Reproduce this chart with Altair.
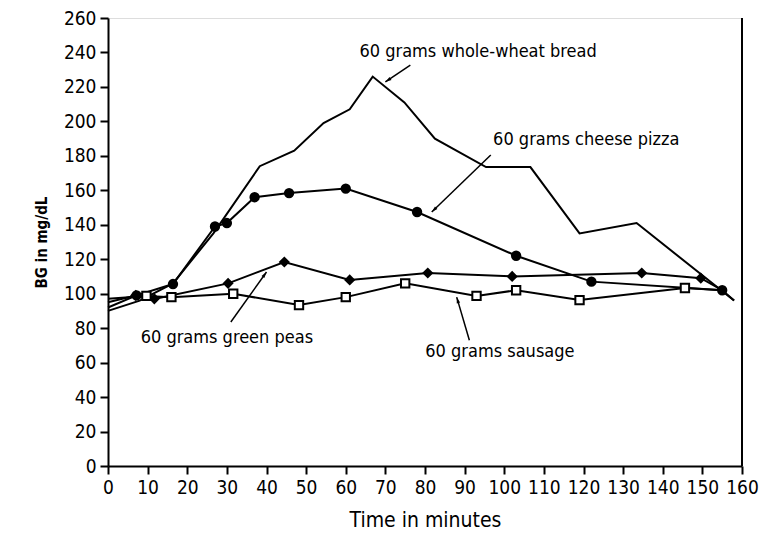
import math
import altair as alt
import pandas as pd

FONT = "DejaVu Sans Condensed, Liberation Sans Narrow, sans-serif"

# ---- data (time in minutes, BG in mg/dL) ----
bread_t = [0, 8, 16.4, 26.6, 38.3, 47, 54.4, 61, 66.8, 74.8, 82.5, 95.4, 106.6, 119, 133.4, 158]
bread_bg = [90, 96, 106, 135, 174, 183, 199, 207, 226, 211, 190, 173.5, 173.5, 135, 141, 96]
bread_mk = [0] * len(bread_t)

pizza_t = [0, 7.2, 16.4, 27, 30, 37, 45.7, 60, 78, 103, 122, 155, 158]
pizza_bg = [92, 99, 105.6, 139, 141, 156, 158.4, 161, 147.4, 122, 107, 102, 96]
pizza_mk = [0, 1, 1, 1, 1, 1, 1, 1, 1, 1, 1, 1, 0]

peas_t = [0, 7, 11.7, 30.3, 44.5, 61, 80.7, 102, 134.7, 149.6, 155]
peas_bg = [95, 99, 97, 106, 118.4, 108, 112, 110, 112, 109, 102]
peas_mk = [0, 1, 1, 1, 1, 1, 1, 1, 1, 1, 0]

saus_t = [0, 9.7, 16, 31.6, 48.2, 60, 75, 93, 103, 119, 145.6, 155]
saus_bg = [97, 98.7, 98, 100, 93.4, 98, 106, 98.7, 102, 96.3, 103.3, 102]
saus_mk = [0, 1, 1, 1, 1, 1, 1, 1, 1, 1, 1, 0]

series_names = ["bread", "pizza", "peas", "sausage"]

# annotations: label, text position, arrow start, arrow end (data units)
ann_text = ["60 grams whole-wheat bread", "60 grams cheese pizza", "60 grams green peas", "60 grams sausage"]
ann_tx = [93.4, 120.7, 30.0, 98.9]
ann_ty = [240.3, 189.2, 74.3, 66.2]
arr_x0 = [76.3, 96.6, 31.0, 91.2]
arr_y0 = [232.7, 180.5, 83.6, 73.0]
arr_x1 = [70.0, 81.7, 40.0, 88.0]
arr_y1 = [222.9, 147.4, 112.6, 98.0]

x_ticks = list(range(0, 161, 10))
y_ticks = list(range(0, 261, 20))

W, H = 634, 448
XMAX, YMAX = 160, 260

rows = []
for name, ts, bgs, mks in zip(series_names,
                              [bread_t, pizza_t, peas_t, saus_t],
                              [bread_bg, pizza_bg, peas_bg, saus_bg],
                              [bread_mk, pizza_mk, peas_mk, saus_mk]):
    for i, (t, b, m) in enumerate(zip(ts, bgs, mks)):
        rows.append({"series": name, "t": t, "bg": b, "mk": m, "order": i})
df = pd.DataFrame(rows)

ann_df = pd.DataFrame({"text": ann_text, "t": ann_tx, "bg": ann_ty})

arr_rows = []
head_rows = []
for k in range(len(ann_text)):
    arr_rows.append({"id": k, "t": arr_x0[k], "bg": arr_y0[k], "o": 0})
    arr_rows.append({"id": k, "t": arr_x1[k], "bg": arr_y1[k], "o": 1})
    dx = (arr_x1[k] - arr_x0[k]) * W / XMAX
    dy = -(arr_y1[k] - arr_y0[k]) * H / YMAX
    ang = math.degrees(math.atan2(dx, -dy)) % 360
    head_rows.append({"t": arr_x1[k], "bg": arr_y1[k], "ang": ang})
arr_df = pd.DataFrame(arr_rows)
head_df = pd.DataFrame(head_rows)

xs = alt.Scale(domain=[0, XMAX], nice=False, zero=False)
ys = alt.Scale(domain=[0, YMAX], nice=False, zero=False)

x_enc = alt.X("t:Q", scale=xs, axis=alt.Axis(values=x_ticks, title="Time in minutes", format="d"))
y_enc = alt.Y("bg:Q", scale=ys, axis=alt.Axis(values=y_ticks, title="BG in mg/dL", format="d"))

base = alt.Chart(df)

lines = base.mark_line(color="black", strokeWidth=2).encode(
    x=x_enc, y=y_enc, detail="series:N", order="order:Q")

points = base.transform_filter(alt.datum.mk == 1).mark_point(
    size=70, strokeWidth=2, opacity=1, color="black").encode(
    x=x_enc, y=y_enc,
    shape=alt.Shape("series:N", scale=alt.Scale(domain=["pizza", "peas", "sausage"],
                                                 range=["circle", "diamond", "square"]), legend=None),
    fill=alt.Fill("series:N", scale=alt.Scale(domain=["pizza", "peas", "sausage"],
                                               range=["black", "black", "white"]), legend=None),
)

right_border = alt.Chart(pd.DataFrame({"t": [XMAX], "bg": [0], "bg2": [YMAX]})).mark_rule(
    color="black", strokeWidth=2).encode(x=x_enc, y=y_enc, y2="bg2:Q")

arrows = alt.Chart(arr_df).mark_line(color="black", strokeWidth=1.5).encode(
    x=x_enc, y=y_enc, detail="id:N", order="o:Q")

heads = alt.Chart(head_df).mark_point(
    shape="M0,0L0.45,1.6L-0.45,1.6Z", size=60, filled=True, color="black", opacity=1).encode(
    x=x_enc, y=y_enc, angle=alt.Angle("ang:Q", scale=None))

labels = alt.Chart(ann_df).mark_text(font=FONT, fontSize=18, color="black", align="center",
                                     baseline="middle").encode(
    x=x_enc, y=y_enc, text="text:N")

chart = alt.layer(lines, points, right_border, arrows, heads, labels).properties(
    width=W, height=H,
    padding={"left": 100, "top": 10, "right": 17, "bottom": 66},
    autosize="none",
).configure_view(stroke=None).configure(background="white").configure_axis(
    grid=False, domainColor="black", domainWidth=2, tickColor="black", tickWidth=2, tickSize=8,
    labelFont=FONT, labelFontSize=19, labelColor="black", labelPadding=4,
    labelOverlap=False, labelFlush=False,
    titleFont=FONT, titleFontWeight="normal", titleColor="black",
).configure_axisX(titleFontSize=21, titlePadding=12).configure_axisY(
    titleFontSize=15, titleFontWeight="bold", titlePadding=14)

chart.save("out.html", embed_options={"renderer": "svg", "actions": False})
